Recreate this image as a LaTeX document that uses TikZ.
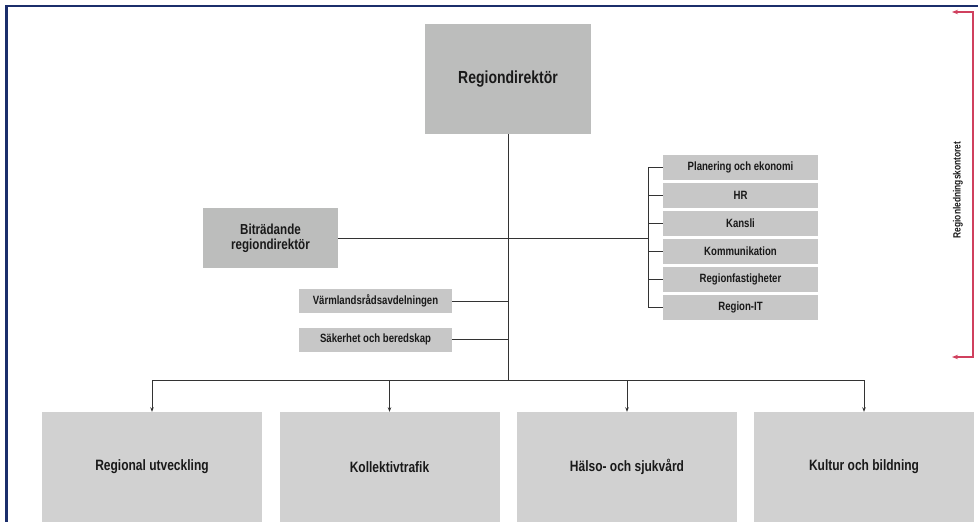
\documentclass[tikz,border=0pt]{standalone}
\usepackage{fontspec}
\setmainfont{Liberation Sans}
\newfontfamily\condfont[FakeStretch=0.8]{Liberation Sans}
\usepackage{xcolor}
\usepackage{tikz}
\usetikzlibrary{arrows.meta,positioning,calc}
\definecolor{framenavy}{HTML}{1B2E6B}
\definecolor{headgray}{HTML}{BCBDBC}
\definecolor{staffgray}{HTML}{C7C7C7}
\definecolor{unitgray}{HTML}{D1D1D1}
\definecolor{linegray}{HTML}{333333}
\definecolor{bracketred}{HTML}{D0405E}

\begin{document}
\begin{tikzpicture}[
  x=1pt, y=-1pt,
  headnode/.style={fill=headgray, draw=none, align=center, text=black!90,
    inner sep=0pt, font=\condfont\bfseries\fontsize{17.5}{20}\selectfont},
  deputynode/.style={fill=headgray, draw=none, align=center, text=black!90,
    inner sep=0pt, font=\condfont\bfseries\fontsize{14.5}{15}\selectfont},
  staffnode/.style={fill=staffgray, draw=none, align=center, text=black!90,
    inner sep=0pt, minimum width=155pt, minimum height=25pt,
    font=\condfont\bfseries\fontsize{12}{14}\selectfont},
  unitnode/.style={fill=unitgray, draw=none, align=center, text=black!90,
    inner sep=0pt, minimum width=220pt, minimum height=110pt,
    font=\condfont\bfseries\fontsize{15}{18}\selectfont},
  linkedge/.style={linegray, line width=0.8pt},
  arrowedge/.style={-{Stealth[length=4.5pt,width=3.5pt]}, linegray, line width=0.8pt},
  sidelabel/.style={font=\condfont\bfseries\fontsize{10.5}{12}\selectfont, text=black!90}
]
\useasboundingbox (0,0) rectangle (978,522);
% ---------------- frame ----------------
\draw[framenavy, line width=2.2pt] (6.5,522) -- (6.5,6) -- (978,6);
% ---------------- top management ----------------
\node[headnode, minimum width=166pt, minimum height=110pt] (dir) at (508,79) {Regiondirektör};
\node[deputynode, minimum width=135pt, minimum height=60pt] (dep) at (270.5,238)
  {Biträdande\\regiondirektör};
% ---------------- staff units ----------------
\node[staffnode] (plan) at (740.5,167) {Planering och ekonomi};
\node[staffnode] (hr) at (740.5,195.5) {HR};
\node[staffnode] (kansli) at (740.5,223.5) {Kansli};
\node[staffnode] (komm) at (740.5,251) {Kommunikation};
\node[staffnode] (fast) at (740.5,279.5) {Regionfastigheter};
\node[staffnode] (it) at (740.5,307.5) {Region-IT};
\node[staffnode, minimum width=153pt, minimum height=24pt] (varm) at (375.5,301)
  {Värmlandsrådsavdelningen};
\node[staffnode, minimum width=153pt, minimum height=24pt] (sak) at (375.5,339.5)
  {Säkerhet och beredskap};
% ---------------- operating units ----------------
\node[unitnode] (regutv) at (152,467) {Regional utveckling};
\node[unitnode] (koll) at (389.5,467) {Kollektivtrafik};
\node[unitnode] (halso) at (627,467) {Hälso- och sjukvård};
\node[unitnode] (kultur) at (864,467) {Kultur och bildning};
% ---------------- connectors ----------------
\coordinate (bus) at (508,380);
\coordinate (spinetop) at (648,167);
\coordinate (spinebot) at (648,307.5);
\draw[linkedge] (dir.south) -- (bus);
\draw[linkedge] (dep.east) -- (dep.east -| spinetop);
\draw[linkedge] (spinetop) -- (spinebot);
\draw[linkedge] (spinetop) -- (plan.west);
\draw[linkedge] (hr.west -| spinetop) -- (hr.west);
\draw[linkedge] (kansli.west -| spinetop) -- (kansli.west);
\draw[linkedge] (komm.west -| spinetop) -- (komm.west);
\draw[linkedge] (fast.west -| spinetop) -- (fast.west);
\draw[linkedge] (spinebot) -- (it.west);
\draw[linkedge] (varm.east) -- (varm.east -| bus);
\draw[linkedge] (sak.east) -- (sak.east -| bus);
\draw[linkedge] (bus -| regutv.north) -- (bus -| kultur.north);
\draw[arrowedge] (bus -| regutv.north) -- (regutv.north);
\draw[arrowedge] (bus -| koll.north) -- (koll.north);
\draw[arrowedge] (bus -| halso.north) -- (halso.north);
\draw[arrowedge] (bus -| kultur.north) -- (kultur.north);
% ---------------- office bracket ----------------
\coordinate (brtopend) at (952,12);
\coordinate (brtop) at (973,12);
\coordinate (brbot) at (973,357);
\coordinate (brbotend) at (952,357);
\draw[bracketred, line width=1.2pt, {Stealth[length=6pt,width=4.5pt]}-{Stealth[length=6pt,width=4.5pt]}]
  (brtopend) -- (brtop) -- (brbot) -- (brbotend);
\node[sidelabel, rotate=90] (office) at (958,190) {Regionledningskontoret};
\end{tikzpicture}
\end{document}
